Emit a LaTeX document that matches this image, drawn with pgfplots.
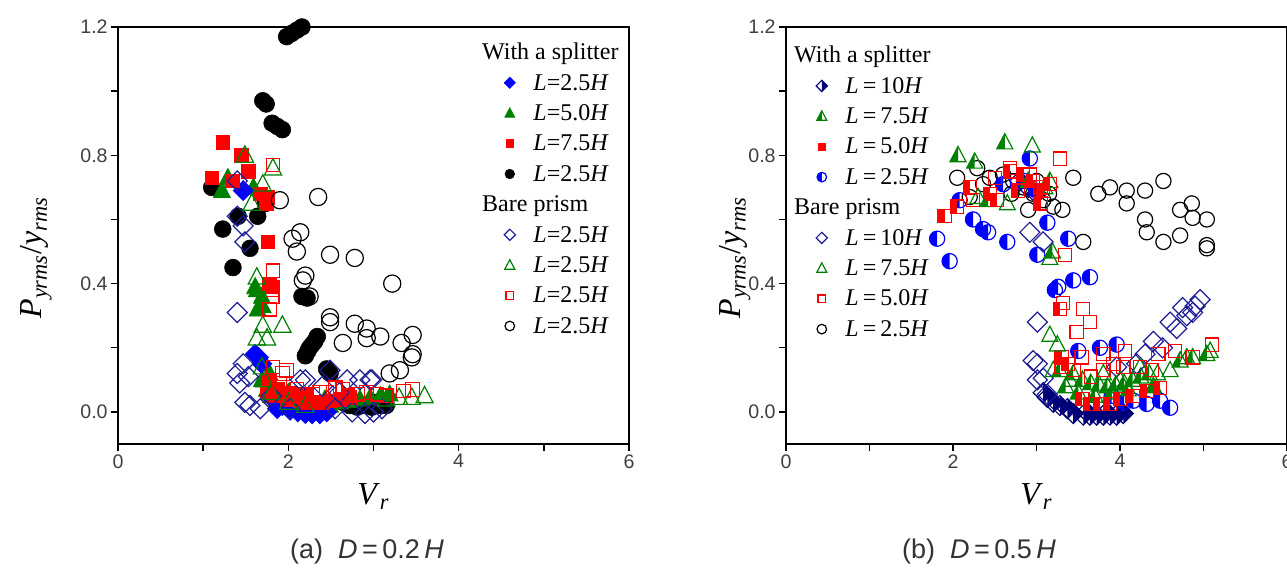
\documentclass[border=0pt]{standalone}
\usepackage{fontspec}
\setmainfont{Liberation Serif}
\newfontfamily\sansf{Liberation Sans}
\usepackage{pgfplots}
\pgfplotsset{compat=1.18}
\definecolor{mygreen}{RGB}{0,128,0}
\definecolor{myblue}{RGB}{0,0,255}
\definecolor{myred}{RGB}{255,0,0}
\definecolor{navyA}{RGB}{30,30,150}
\definecolor{navyB}{RGB}{0,0,120}

\pgfdeclareplotmark{dia}{%
  \pgfpathmoveto{\pgfqpoint{0pt}{\pgfplotmarksize}}%
  \pgfpathlineto{\pgfqpoint{\pgfplotmarksize}{0pt}}%
  \pgfpathlineto{\pgfqpoint{0pt}{-\pgfplotmarksize}}%
  \pgfpathlineto{\pgfqpoint{-\pgfplotmarksize}{0pt}}%
  \pgfpathclose\pgfusepathqstroke}
\pgfdeclareplotmark{dia*}{%
  \pgfpathmoveto{\pgfqpoint{0pt}{\pgfplotmarksize}}%
  \pgfpathlineto{\pgfqpoint{\pgfplotmarksize}{0pt}}%
  \pgfpathlineto{\pgfqpoint{0pt}{-\pgfplotmarksize}}%
  \pgfpathlineto{\pgfqpoint{-\pgfplotmarksize}{0pt}}%
  \pgfpathclose\pgfusepathqfillstroke}
\pgfdeclareplotmark{halfdia}{%
  \pgfpathmoveto{\pgfqpoint{0pt}{\pgfplotmarksize}}%
  \pgfpathlineto{\pgfqpoint{\pgfplotmarksize}{0pt}}%
  \pgfpathlineto{\pgfqpoint{0pt}{-\pgfplotmarksize}}%
  \pgfpathclose\pgfusepathqfill
  \pgfpathmoveto{\pgfqpoint{0pt}{\pgfplotmarksize}}%
  \pgfpathlineto{\pgfqpoint{\pgfplotmarksize}{0pt}}%
  \pgfpathlineto{\pgfqpoint{0pt}{-\pgfplotmarksize}}%
  \pgfpathlineto{\pgfqpoint{-\pgfplotmarksize}{0pt}}%
  \pgfpathclose\pgfusepathqstroke}
\pgfdeclareplotmark{tri}{%
  \pgfpathmoveto{\pgfqpoint{0pt}{1.1\pgfplotmarksize}}%
  \pgfpathlineto{\pgfqpoint{\pgfplotmarksize}{-0.8\pgfplotmarksize}}%
  \pgfpathlineto{\pgfqpoint{-\pgfplotmarksize}{-0.8\pgfplotmarksize}}%
  \pgfpathclose\pgfusepathqstroke}
\pgfdeclareplotmark{tri*}{%
  \pgfpathmoveto{\pgfqpoint{0pt}{1.1\pgfplotmarksize}}%
  \pgfpathlineto{\pgfqpoint{\pgfplotmarksize}{-0.8\pgfplotmarksize}}%
  \pgfpathlineto{\pgfqpoint{-\pgfplotmarksize}{-0.8\pgfplotmarksize}}%
  \pgfpathclose\pgfusepathqfillstroke}
\pgfdeclareplotmark{halftri}{%
  \pgfpathmoveto{\pgfqpoint{0pt}{1.1\pgfplotmarksize}}%
  \pgfpathlineto{\pgfqpoint{0pt}{-0.8\pgfplotmarksize}}%
  \pgfpathlineto{\pgfqpoint{-\pgfplotmarksize}{-0.8\pgfplotmarksize}}%
  \pgfpathclose\pgfusepathqfill
  \pgfpathmoveto{\pgfqpoint{0pt}{1.1\pgfplotmarksize}}%
  \pgfpathlineto{\pgfqpoint{\pgfplotmarksize}{-0.8\pgfplotmarksize}}%
  \pgfpathlineto{\pgfqpoint{-\pgfplotmarksize}{-0.8\pgfplotmarksize}}%
  \pgfpathclose\pgfusepathqstroke}
\pgfdeclareplotmark{halfcirc}{%
  \pgfpathmoveto{\pgfqpoint{0pt}{\pgfplotmarksize}}%
  \pgfpatharc{90}{270}{\pgfplotmarksize}%
  \pgfpathclose\pgfusepathqfill
  \pgfpathcircle{\pgfpointorigin}{\pgfplotmarksize}%
  \pgfusepathqstroke}
\pgfdeclareplotmark{halfsq}{%
  \pgfpathrectangle{\pgfqpoint{-\pgfplotmarksize}{-\pgfplotmarksize}}{\pgfqpoint{\pgfplotmarksize}{2\pgfplotmarksize}}%
  \pgfusepathqfill
  \pgfpathrectangle{\pgfqpoint{-\pgfplotmarksize}{-\pgfplotmarksize}}{\pgfqpoint{2\pgfplotmarksize}{2\pgfplotmarksize}}%
  \pgfusepathqstroke}

\pgfplotsset{
  myax/.style={
    scale only axis, height=208.5pt,
    xmin=0, xmax=6, ymin=-0.1, ymax=1.2,
    xtick={0,2,4,6}, xticklabels={0,2,4,6},
    ytick={0,0.4,0.8,1.2}, yticklabels={0.0,0.4,0.8,1.2},
    minor xtick={1,3,5}, minor ytick={0.2,0.6,1.0},
    tick align=outside, tick pos=left,
    major tick length=3.5pt, minor tick length=3.5pt,
    axis line style={line width=0.9pt},
    every tick/.style={black, line width=0.7pt},
    tick label style={font=\sansf\fontsize{9.8}{11}\selectfont, text=black!75, inner sep=1.5pt},
    xlabel={\textit{V}\textsubscript{\textit{r}}},
    ylabel={\textit{P}\textsubscript{\textit{yrms}}/\textit{y}\textsubscript{\textit{rms}}},
    every axis x label/.style={at={(axis description cs:0.5,-0.125)},anchor=center,
      font=\fontsize{16}{18}\selectfont},
    legend cell align=left,
    legend style={draw=none, fill=none, inner sep=0pt, row sep=0pt, column sep=6pt,
      font=\fontsize{12}{13}\selectfont,
      nodes={inner xsep=3pt, inner ysep=0pt, text height=11.2pt, text depth=4pt}},
    legend image code/.code={\draw[##1] plot coordinates {(0pt,0pt)};},
  },
  hol/.style={only marks, mark options={line width=0.6pt}},
  fil/.style={only marks, mark options={line width=0.3pt}},
}

\begin{document}
\begin{tikzpicture}
% ---------------- (a) ----------------
\begin{axis}[myax, at={(59pt,62pt)}, anchor=south west, width=255.5pt,
  every axis y label/.style={at={(axis description cs:-0.16,0.447)}, anchor=center, rotate=90,
    font=\fontsize{16}{18}\selectfont},
  legend style={at={(0.755,0.9765)}, anchor=north west}]
% with splitter L=2.5H (black filled)
\addplot[forget plot, fil, mark=*, mark size=4.2pt, color=black] coordinates {
(1.98,1.17)(2.04,1.18)(2.10,1.19)(2.16,1.20)(1.70,0.97)(1.74,0.96)(1.81,0.90)(1.87,0.89)(1.93,0.88)
(1.10,0.70)(1.23,0.57)(1.35,0.45)(1.64,0.61)(1.41,0.61)(1.55,0.51)(1.73,0.65)(2.16,0.36)(2.22,0.355)
(2.20,0.175)(2.23,0.19)(2.25,0.20)(2.28,0.21)(2.31,0.22)(2.34,0.235)(2.45,0.134)(2.49,0.12)
(2.64,0.03)(2.72,0.02)(2.81,0.015)(2.90,0.02)(2.98,0.015)(3.08,0.02)(3.15,0.02)(3.00,0.03)};
% L=5.0H green filled
\addplot[forget plot, fil, mark=tri*, mark size=4.3pt, color=mygreen] coordinates {
(1.22,0.69)(1.29,0.73)(1.59,0.70)(1.61,0.39)(1.63,0.38)(1.69,0.36)(1.64,0.32)(1.70,0.33)(1.78,0.12)
(1.69,0.10)(1.75,0.07)(1.80,0.05)(1.87,0.04)(1.96,0.03)(2.05,0.02)(2.14,0.02)(2.25,0.015)(2.37,0.01)
(2.49,0.02)(2.61,0.03)(2.72,0.035)(2.84,0.04)(2.96,0.045)(3.08,0.05)(3.19,0.055)(2.00,0.06)(2.20,0.05)(2.43,0.04)};
% L=2.5H blue filled
\addplot[forget plot, fil, mark=dia*, mark size=5pt, color=myblue] coordinates {
(1.47,0.69)(1.61,0.18)(1.65,0.17)(1.69,0.15)(1.78,0.05)(1.84,0.035)(1.87,0.01)(1.93,0.02)(1.96,0.04)
(2.02,0.005)(2.11,0.0)(2.14,0.03)(2.20,-0.005)(2.28,-0.006)(2.31,0.01)(2.37,-0.006)(2.45,0.0)};
% L=7.5H red filled
\addplot[forget plot, fil, mark=square*, mark size=3.4pt, color=myred] coordinates {
(1.23,0.84)(1.10,0.73)(1.45,0.80)(1.53,0.75)(1.34,0.72)(1.67,0.68)(1.76,0.67)(1.74,0.65)(1.76,0.53)
(1.78,0.40)(1.81,0.39)(1.78,0.10)(1.75,0.06)(1.82,0.05)(1.87,0.07)(1.90,0.05)(1.98,0.04)(2.02,0.06)
(2.05,0.04)(2.14,0.035)(2.20,0.055)(2.22,0.03)(2.31,0.03)(2.40,0.03)(2.49,0.035)(2.61,0.04)(2.72,0.045)};
% bare prism
\addplot[forget plot, hol, mark=dia, mark size=5pt, color=navyA] coordinates {
(1.40,0.72)(1.40,0.61)(1.47,0.58)(1.49,0.53)(1.40,0.31)(1.47,0.15)(1.40,0.12)(1.43,0.09)(1.49,0.03)
(1.55,0.02)(1.67,0.01)(1.53,0.11)(1.80,0.05)(2.02,0.01)(2.14,0.10)(2.20,0.10)(2.40,0.08)(2.49,0.13)
(2.55,0.01)(2.60,0.06)(2.69,0.10)(2.75,0.0)(2.84,0.10)(2.90,-0.005)(2.96,0.10)(3.00,0.0)(2.98,0.10)(3.10,0.01)};
\addplot[forget plot, hol, mark=tri, mark size=4.3pt, color=mygreen] coordinates {
(1.49,0.80)(1.82,0.76)(1.70,0.71)(1.57,0.65)(1.63,0.42)(1.70,0.27)(1.93,0.27)(1.63,0.23)(1.75,0.23)
(1.69,0.14)(1.72,0.10)(1.80,0.06)(2.00,0.03)(2.20,0.02)(3.15,0.04)(3.30,0.045)(3.45,0.045)(3.60,0.05)};
\addplot[forget plot, hol, mark=square, mark size=3.4pt, color=myred] coordinates {
(1.82,0.77)(1.82,0.44)(1.81,0.38)(1.81,0.36)(1.78,0.32)(1.82,0.14)(1.93,0.12)(1.98,0.13)(1.90,0.09)
(2.05,0.05)(2.10,0.07)(2.20,0.04)(2.29,0.055)(2.37,0.06)(2.45,0.06)(2.55,0.075)(2.64,0.07)(2.70,0.05)
(2.81,0.055)(2.92,0.06)(3.04,0.055)(3.15,0.05)(3.35,0.065)(3.46,0.07)};
\addplot[forget plot, hol, mark=o, mark size=4.3pt, color=black] coordinates {
(1.90,0.66)(2.35,0.67)(2.05,0.54)(2.14,0.56)(2.10,0.50)(2.49,0.49)(2.78,0.48)(3.22,0.40)(2.20,0.425)
(2.17,0.41)(2.25,0.36)(2.49,0.295)(2.49,0.28)(2.78,0.275)(2.92,0.26)(3.08,0.235)(2.64,0.215)(2.92,0.23)
(3.33,0.215)(3.46,0.24)(3.46,0.18)(3.45,0.17)(3.19,0.12)(3.31,0.13)};
% legend
\addlegendimage{empty legend}\addlegendentry{\hspace*{-25.6pt}With a splitter}
\addlegendimage{fil, mark=dia*, mark size=2.8pt, color=myblue}\addlegendentry{\textit{L}=2.5\textit{H}}
\addlegendimage{fil, mark=tri*, mark size=2.5pt, color=mygreen}\addlegendentry{\textit{L}=5.0\textit{H}}
\addlegendimage{fil, mark=square*, mark size=1.9pt, color=myred}\addlegendentry{\textit{L}=7.5\textit{H}}
\addlegendimage{fil, mark=*, mark size=2.4pt, color=black}\addlegendentry{\textit{L}=2.5\textit{H}}
\addlegendimage{empty legend}\addlegendentry{\hspace*{-25.6pt}Bare prism}
\addlegendimage{hol, mark=dia, mark size=2.8pt, color=navyA}\addlegendentry{\textit{L}=2.5\textit{H}}
\addlegendimage{hol, mark=tri, mark size=2.5pt, color=mygreen}\addlegendentry{\textit{L}=2.5\textit{H}}
\addlegendimage{hol, mark=square, mark size=1.9pt, color=myred}\addlegendentry{\textit{L}=2.5\textit{H}}
\addlegendimage{hol, mark=o, mark size=2.4pt, color=black}\addlegendentry{\textit{L}=2.5\textit{H}}
\end{axis}

% ---------------- (b) ----------------
\begin{axis}[myax, at={(393pt,62pt)}, anchor=south west, width=250.5pt,
  every axis y label/.style={at={(axis description cs:-0.102,0.447)}, anchor=center, rotate=90,
    font=\fontsize{16}{18}\selectfont},
  legend style={at={(0.0595,0.969)}, anchor=north west}]
\addplot[forget plot, hol, mark=o, mark size=3.8pt, color=black] coordinates {
(2.05,0.73)(2.29,0.76)(2.44,0.73)(2.60,0.74)(2.72,0.72)(2.84,0.70)(2.96,0.68)(3.08,0.66)(3.20,0.64)
(3.31,0.63)(3.44,0.73)(3.74,0.68)(3.56,0.53)(3.88,0.70)(4.08,0.69)(4.08,0.65)(4.30,0.69)(4.52,0.72)
(4.30,0.60)(4.32,0.56)(4.52,0.53)(4.72,0.55)(4.72,0.63)(4.86,0.65)(4.87,0.605)(5.04,0.60)(5.04,0.52)
(5.04,0.51)(2.20,0.67)(2.36,0.71)(2.70,0.68)(2.90,0.63)(3.00,0.72)(3.15,0.68)};
\addplot[forget plot, hol, mark=halfdia, mark size=5pt, color=navyB] coordinates {
(3.13,0.045)(3.20,0.03)(3.37,0.01)(3.44,-0.005)(3.56,-0.01)(3.64,-0.01)(3.72,-0.01)(3.80,-0.01)
(3.88,-0.01)(3.96,-0.01)(4.04,-0.005)(3.08,0.06)(3.28,0.02)(2.80,0.72)(2.90,0.70)(3.00,0.68)};
\addplot[forget plot, hol, mark=halfcirc, mark size=3.8pt, color=myblue] coordinates {
(1.81,0.54)(1.96,0.47)(2.08,0.66)(2.24,0.60)(2.36,0.57)(2.42,0.56)(2.65,0.53)(3.01,0.49)(3.13,0.59)
(3.38,0.54)(3.22,0.38)(3.44,0.41)(3.64,0.42)(3.26,0.39)(3.76,0.20)(3.96,0.21)(4.16,0.035)(4.32,0.025)
(4.48,0.035)(4.60,0.013)(4.05,0.03)(3.90,0.05)(2.85,0.72)(3.00,0.69)(2.60,0.71)(2.92,0.79)(3.50,0.19)};
\addplot[forget plot, hol, mark=halftri, mark size=4pt, color=mygreen] coordinates {
(2.06,0.80)(2.26,0.78)(2.62,0.84)(2.42,0.66)(3.16,0.72)(3.19,0.50)(3.10,0.70)(2.90,0.72)
(3.28,0.13)(3.44,0.12)(3.55,0.10)(3.65,0.09)(3.75,0.085)(3.85,0.08)(3.95,0.085)(4.05,0.09)(4.15,0.10)
(4.25,0.11)(4.35,0.12)(4.72,0.16)(4.87,0.17)(5.04,0.18)(3.35,0.08)(3.50,0.06)(3.70,0.05)(3.90,0.06)
(4.10,0.07)(4.40,0.08)};
\addplot[forget plot, hol, mark=halfsq, mark size=3.3pt, color=myred] coordinates {
(1.90,0.61)(2.05,0.64)(2.20,0.70)(2.53,0.66)(2.68,0.75)(2.84,0.74)(2.96,0.72)(3.08,0.69)(3.16,0.71)
(2.44,0.68)(2.78,0.69)(3.05,0.65)(3.28,0.32)(3.38,0.15)(3.64,0.025)(3.76,0.025)(3.88,0.025)(4.32,0.065)
(4.48,0.075)(3.55,0.04)(4.00,0.04)(4.15,0.05)(3.30,0.17)};
\addplot[forget plot, hol, mark=dia, mark size=5pt, color=navyA] coordinates {
(3.01,0.28)(2.92,0.56)(3.08,0.53)(3.01,0.15)(3.01,0.10)(3.13,0.055)(4.40,0.22)(4.60,0.28)(4.75,0.325)
(4.96,0.35)(4.87,0.31)(4.68,0.26)(4.51,0.20)(4.20,0.15)(3.96,0.14)(3.08,0.105)(2.96,0.16)(4.30,0.18)
(4.80,0.30)(4.90,0.33)};
\addplot[forget plot, hol, mark=tri, mark size=4pt, color=mygreen] coordinates {
(2.95,0.83)(2.65,0.65)(3.16,0.48)(3.16,0.24)(3.25,0.21)(3.20,0.13)(4.60,0.13)(4.80,0.17)(5.08,0.19)
(4.24,0.14)(3.40,0.10)(3.80,0.12)(4.00,0.10)(4.45,0.12)(2.30,0.67)};
\addplot[forget plot, hol, mark=square, mark size=3.3pt, color=myred] coordinates {
(3.28,0.79)(2.68,0.76)(2.92,0.74)(2.24,0.66)(3.34,0.49)(3.32,0.34)(3.56,0.32)(3.64,0.28)(3.48,0.25)
(3.54,0.17)(3.80,0.18)(4.06,0.19)(4.04,0.14)(4.24,0.14)(4.38,0.13)(4.46,0.18)(4.66,0.19)(4.87,0.17)
(5.10,0.21)(3.80,0.13)(3.92,0.15)(3.30,0.14)(3.45,0.13)(3.65,0.11)(2.50,0.73)(3.05,0.70)};
% legend
\addlegendimage{empty legend}\addlegendentry{\hspace*{-25.6pt}With a splitter}
\addlegendimage{hol, mark=halfdia, mark size=2.8pt, color=navyB}\addlegendentry{\textit{L}\,=\,10\textit{H}}
\addlegendimage{hol, mark=halftri, mark size=2.5pt, color=mygreen}\addlegendentry{\textit{L}\,=\,7.5\textit{H}}
\addlegendimage{fil, mark=square*, mark size=1.9pt, color=myred}\addlegendentry{\textit{L}\,=\,5.0\textit{H}}
\addlegendimage{hol, mark=halfcirc, mark size=2.4pt, color=myblue}\addlegendentry{\textit{L}\,=\,2.5\textit{H}}
\addlegendimage{empty legend}\addlegendentry{\hspace*{-25.6pt}Bare prism}
\addlegendimage{hol, mark=dia, mark size=2.8pt, color=navyA}\addlegendentry{\textit{L}\,=\,10\textit{H}}
\addlegendimage{hol, mark=tri, mark size=2.5pt, color=mygreen}\addlegendentry{\textit{L}\,=\,7.5\textit{H}}
\addlegendimage{hol, mark=square, mark size=1.9pt, color=myred}\addlegendentry{\textit{L}\,=\,5.0\textit{H}}
\addlegendimage{hol, mark=o, mark size=2.4pt, color=black}\addlegendentry{\textit{L}\,=\,2.5\textit{H}}
\end{axis}

\node[font=\sansf\fontsize{13.5}{15}\selectfont, text=black!80] at (183.5pt,8pt) {(a)\ \ \textit{D}\,=\,0.2\,\textit{H}};
\node[font=\sansf\fontsize{13.5}{15}\selectfont, text=black!80] at (489.5pt,8pt) {(b)\ \ \textit{D}\,=\,0.5\,\textit{H}};

\pgfresetboundingbox
\useasboundingbox (0,0) rectangle (643.5pt,284pt);
\end{tikzpicture}
\end{document}
